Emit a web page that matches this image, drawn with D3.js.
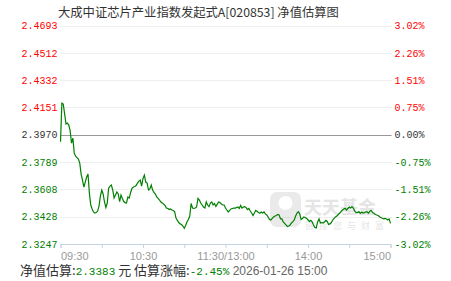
<!DOCTYPE html>
<html>
<head>
<meta charset="utf-8">
<title>净值估算图</title>
<script src="https://cdn.jsdelivr.net/npm/d3@7"></script>
<style>
  body { margin: 0; background: #fff; }
  svg { display: block; }
  .mono { font-family: "Liberation Mono", "DejaVu Sans Mono", monospace; font-size: 10px; }
  .cjk { font-family: "Noto Sans CJK SC", sans-serif; }
</style>
</head>
<body>
<svg width="451" height="281"></svg>
<script>
var title = '大成中证芯片产业指数发起式A[020853] 净值估算图';
var navLabels = ['2.4693', '2.4512', '2.4332', '2.4151', '2.3970', '2.3789', '2.3608', '2.3428', '2.3247'];
var pctLabels = ['3.02%', '2.26%', '1.51%', '0.75%', '0.00%', '-0.75%', '-1.51%', '-2.26%', '-3.02%'];
var timeLabels = ['09:30', '', '10:30', '', '11:30/13:00', '', '14:00', '', '15:00'];
var baseNav = 2.3970;

// one estimate per trading minute, 09:30 -> 15:00 (lunch break removed)
var navs = [
  2.3924, 2.4179, 2.4173, 2.4108, 2.4041, 2.4047, 2.4034, 2.3998, 2.3915, 2.3948,
  2.3848, 2.3829, 2.3819, 2.3809, 2.3782, 2.3710, 2.3670, 2.3624, 2.3657, 2.3690,
  2.3710, 2.3584, 2.3505, 2.3479, 2.3459, 2.3452, 2.3455, 2.3465, 2.3498, 2.3564,
  2.3604, 2.3578, 2.3525, 2.3489, 2.3518, 2.3617, 2.3630, 2.3637, 2.3604, 2.3551,
  2.3571, 2.3591, 2.3578, 2.3527, 2.3571, 2.3548, 2.3528, 2.3521, 2.3518, 2.3558,
  2.3551, 2.3588, 2.3615, 2.3624, 2.3627, 2.3634, 2.3650, 2.3663, 2.3670, 2.3630,
  2.3681, 2.3703, 2.3657, 2.3650, 2.3604, 2.3611, 2.3637, 2.3604, 2.3588, 2.3578,
  2.3558, 2.3549, 2.3538, 2.3525, 2.3518, 2.3511, 2.3502, 2.3485, 2.3483, 2.3475,
  2.3479, 2.3472, 2.3469, 2.3462, 2.3419, 2.3403, 2.3389, 2.3380, 2.3376, 2.3366,
  2.3351, 2.3370, 2.3393, 2.3409, 2.3432, 2.3515, 2.3485, 2.3483, 2.3485, 2.3492,
  2.3549, 2.3538, 2.3518, 2.3505, 2.3492, 2.3485, 2.3525, 2.3505, 2.3494, 2.3518,
  2.3525, 2.3505, 2.3515, 2.3495, 2.3511, 2.3525, 2.3521, 2.3511, 2.3505, 2.3505,
  2.3485, 2.3472, 2.3459, 2.3469, 2.3479, 2.3482, 2.3485, 2.3485, 2.3488, 2.3492,
  2.3482, 2.3502, 2.3485, 2.3492, 2.3494, 2.3488, 2.3475, 2.3482, 2.3465, 2.3452,
  2.3436, 2.3452, 2.3469, 2.3462, 2.3455, 2.3450, 2.3459, 2.3452, 2.3459, 2.3446,
  2.3439, 2.3426, 2.3409, 2.3406, 2.3416, 2.3426, 2.3432, 2.3436, 2.3442, 2.3439,
  2.3413, 2.3413, 2.3393, 2.3383, 2.3373, 2.3362, 2.3366, 2.3373, 2.3386, 2.3395,
  2.3406, 2.3432, 2.3452, 2.3461, 2.3446, 2.3409, 2.3416, 2.3426, 2.3422, 2.3416,
  2.3406, 2.3396, 2.3403, 2.3393, 2.3373, 2.3356, 2.3353, 2.3393, 2.3413, 2.3386,
  2.3389, 2.3386, 2.3393, 2.3403, 2.3396, 2.3376, 2.3380, 2.3389, 2.3406, 2.3416,
  2.3426, 2.3432, 2.3442, 2.3450, 2.3461, 2.3472, 2.3479, 2.3483, 2.3472, 2.3482,
  2.3492, 2.3485, 2.3494, 2.3485, 2.3465, 2.3455, 2.3455, 2.3461, 2.3450, 2.3459,
  2.3452, 2.3455, 2.3459, 2.3459, 2.3452, 2.3465, 2.3469, 2.3455, 2.3450, 2.3442,
  2.3439, 2.3436, 2.3428, 2.3422, 2.3417, 2.3413, 2.3416, 2.3413, 2.3406, 2.3413,
  2.3383
];

var lastNav = '2.3383';
var lastPct = '-2.45%';
var lastTime = '2026-01-26 15:00';

var red = '#ff0000', green = '#008000', dark = '#333';
var plotLeft = 60.5, plotRight = 390.5, plotTop = 25.5, plotBottom = 244;

var svg = d3.select('svg');

var x = d3.scaleLinear().domain([0, 240]).range([plotLeft, plotRight]);
var y = d3.scaleLinear()
  .domain([+navLabels[navLabels.length - 1], +navLabels[0]])
  .range([plotBottom, plotTop]);
var yPct = d3.scaleLinear().domain([-3.02, 3.02]).range([plotBottom, plotTop]);

function colorFor(i) {
  if (i < 4) return red;
  if (i === 4) return dark;
  return green;
}

// title
svg.append('text')
  .attr('class', 'cjk')
  .attr('x', 58).attr('y', 17)
  .style('font-size', '12.3px')
  .style('fill', dark)
  .text(title);

// grid lines
svg.append('g')
  .selectAll('line')
  .data(navLabels.slice(0, -1))
  .enter()
  .append('line')
  .attr('x1', plotLeft).attr('x2', plotRight + 1)
  .attr('y1', function(d) { return Math.round(y(+d)) + 0.5; })
  .attr('y2', function(d) { return Math.round(y(+d)) + 0.5; })
  .style('stroke', function(d, i) { return i === 4 ? '#999' : '#ddd'; })
  .style('stroke-dasharray', function(d, i) { return i === 4 ? null : '1,1'; });

// left axis labels (NAV)
var yAxis = d3.axisLeft(y)
  .tickValues(navLabels.map(Number))
  .tickFormat(function(d, i) { return navLabels[i]; })
  .tickSize(0).tickPadding(3);
var gy = svg.append('g').attr('transform', 'translate(' + plotLeft + ',0)').call(yAxis);
gy.select('.domain').remove();
gy.attr('font-size', null).attr('font-family', null);
gy.selectAll('text')
  .attr('class', 'mono')
  .attr('fill', function(d, i) { return colorFor(i); });

// right axis labels (change %)
var pctAxis = d3.axisRight(yPct)
  .tickValues(pctLabels.map(function(d) { return parseFloat(d); }))
  .tickFormat(function(d, i) { return pctLabels[i]; })
  .tickSize(0).tickPadding(4);
var gp = svg.append('g').attr('transform', 'translate(' + plotRight + ',0)').call(pctAxis);
gp.select('.domain').remove();
gp.attr('font-size', null).attr('font-family', null);
gp.selectAll('text')
  .attr('class', 'mono')
  .attr('fill', function(d, i) { return colorFor(i); });

// time axis
var xAxis = d3.axisBottom(x)
  .tickValues(d3.range(0, 241, 30))
  .tickFormat(function(d, i) { return timeLabels[i]; })
  .tickSize(4).tickSizeOuter(4).tickPadding(4);
var gx = svg.append('g').attr('transform', 'translate(0,' + plotBottom + ')').call(xAxis);
gx.selectAll('.domain, .tick line').attr('stroke', '#c3d3e3');
gx.selectAll('text')
  .filter(function(d, i) { return !timeLabels[i]; })
  .remove();
gx.selectAll('text')
  .style('font-family', '"Liberation Sans", Arial, sans-serif')
  .style('font-size', '11px')
  .attr('fill', '#999')
  .attr('text-anchor', function(d) {
    if (d === 0) return 'start';
    if (d === 240) return 'end';
    return 'middle';
  });

// watermark
var wm = svg.append('g').style('opacity', 0.3);
wm.append('rect')
  .attr('x', 270).attr('y', 192).attr('width', 31).attr('height', 35).attr('rx', 7)
  .style('fill', '#bbb');
wm.append('circle').attr('cx', 285.5).attr('cy', 203).attr('r', 7).style('fill', '#fff');
wm.append('text')
  .attr('class', 'cjk')
  .attr('x', 304).attr('y', 214)
  .style('font-size', '18px').style('font-weight', 'bold')
  .style('fill', '#aaa')
  .text('天天基金');
wm.append('text')
  .attr('class', 'cjk')
  .attr('x', 305).attr('y', 229)
  .style('font-size', '9px')
  .style('letter-spacing', '5px')
  .style('fill', '#aaa')
  .text('链接您与财富');

// NAV line
var line = d3.line()
  .x(function(d, i) { return x(i); })
  .y(function(d) { return y(d); });

svg.append('path')
  .datum(navs)
  .attr('d', line)
  .style('fill', 'none')
  .style('stroke', green)
  .style('stroke-width', 1.2);

// footer
var foot = svg.append('text').attr('x', 20).attr('y', 275).style('font-size', '13px');
foot.append('tspan').attr('class', 'cjk').style('fill', dark).text('净值估算:');
foot.append('tspan').attr('class', 'mono').style('font-size', '11px').style('fill', green).text(lastNav);
foot.append('tspan').attr('class', 'cjk').style('fill', dark).text(' 元 估算涨幅:');
foot.append('tspan').attr('class', 'mono').style('font-size', '11px').style('fill', green).text(lastPct);
foot.append('tspan')
  .style('font-family', '"Liberation Sans", Arial, sans-serif')
  .style('font-size', '12px')
  .style('fill', '#666')
  .text(' ' + lastTime);
</script>
</body>
</html>
